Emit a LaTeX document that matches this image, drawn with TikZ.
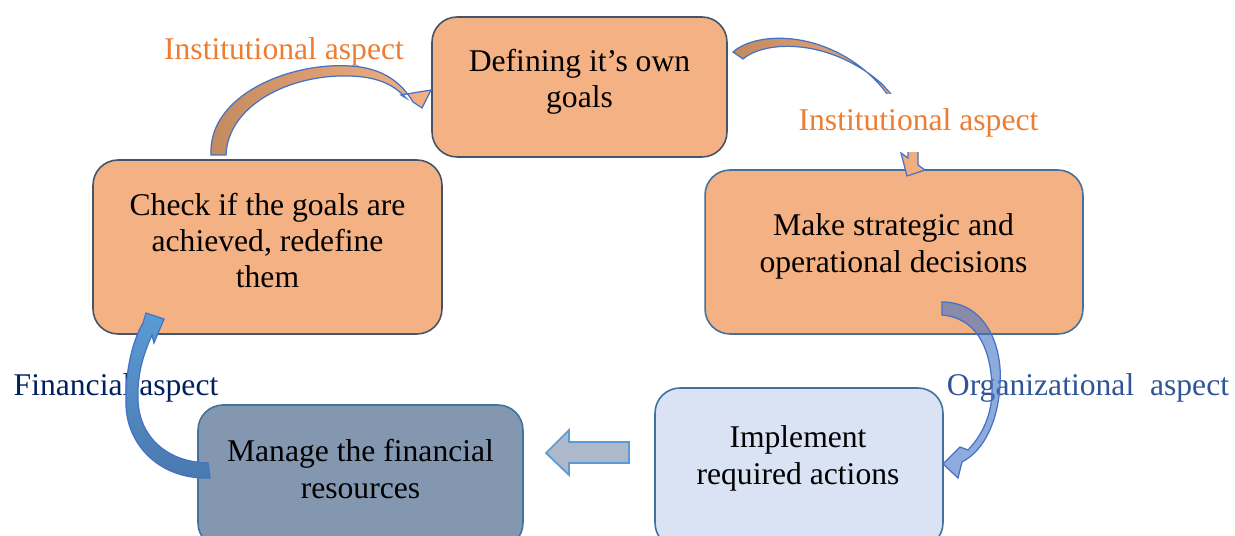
\documentclass[tikz,border=0pt]{standalone}
\usepackage{fontspec}
\setmainfont{Liberation Serif}
\definecolor{CycleOrange}{HTML}{F4B183}
\definecolor{CycleBrown}{HTML}{C38A5F}
\definecolor{SlateEdge}{HTML}{44546A}
\definecolor{BlueEdge}{HTML}{41719C}
\definecolor{PaleBlue}{HTML}{DAE3F3}
\definecolor{GreyBlue}{HTML}{8497B0}
\definecolor{ArrowBlue}{HTML}{4472C4}
\definecolor{SkyBlue}{HTML}{5B9BD5}
\definecolor{DeepBlue}{HTML}{4A78B0}
\definecolor{MistBlue}{HTML}{ADB9CA}
\definecolor{LabelOrange}{HTML}{ED7D31}
\definecolor{LabelBlue}{HTML}{2F5597}
\definecolor{LabelNavy}{HTML}{002060}

\tikzset{
  stage/.style={draw=SlateEdge,line width=0.9pt,rounded corners=0.5cm,fill=CycleOrange},
  stagetext/.style={align=center,font=\fontsize{18}{20.7}\selectfont},
  aspect/.style={font=\fontsize{18}{21}\selectfont},
  twist/.style={draw=ArrowBlue,line width=0.7pt,left color=CycleBrown,right color=CycleOrange},
}

\begin{document}
\begin{tikzpicture}[x=0.02cm,y=-0.02cm]
  \useasboundingbox (0,0) rectangle (1235,536);
  \clip (0,0) rectangle (1235,536);

  % stages of the cycle
  \node[stage,minimum width=5.9cm,minimum height=2.8cm] (goals) at (579.5,87) {};
  \node[stage,draw=BlueEdge,minimum width=7.56cm,minimum height=3.28cm] (decide) at (894,252) {};
  \node[stage,draw=BlueEdge,fill=PaleBlue,minimum width=5.76cm,minimum height=3.2cm] (act) at (799,468) {};
  \node[stage,draw=BlueEdge,fill=GreyBlue,minimum width=6.5cm,minimum height=2.86cm] (money) at (360.5,476.5) {};
  \node[stage,minimum width=6.98cm,minimum height=3.48cm] (check) at (267.5,247) {};

  \node[stagetext] (goals-t) at (579.5,82) {Defining it’s own\\goals};
  \node[stagetext] (decide-t) at (893.5,246.5) {Make strategic and\\operational decisions};
  \node[stagetext] (act-t) at (798,458.5) {Implement\\required actions};
  \node[stagetext] (money-t) at (360.5,469) {Manage the financial\\resources};
  \node[stagetext] (check-t) at (267.5,240.5) {Check if the goals are\\achieved, redefine\\them};

  \node[aspect,text=LabelOrange] (inst-l) at (284,52) {Institutional aspect};
  \node[aspect,text=LabelBlue] (org) at (1088,388) {Organizational\ \ aspect};
  \node[aspect,text=LabelNavy] (fin) at (116,388) {Financial aspect};

  % curved arrows
  \draw[twist] (211,155) .. controls (208,95) and (290,62) .. (350,66)
    .. controls (385,68) and (402,84) .. (413,102) -- (422,108) -- (431,90)
    -- (401,95) -- (406,98) .. controls (395,86) and (380,77) .. (350,76)
    .. controls (290,74) and (228,105) .. (226,155) -- cycle;
  \draw[twist] (733,52) .. controls (758,30) and (830,30) .. (880,85)
    .. controls (895,102) and (905,125) .. (908,147) -- (908,158) -- (901,153)
    -- (907,176) -- (925,170) -- (918,165) -- (918,147)
    .. controls (912,120) and (897,100) .. (882,84)
    .. controls (830,38) and (765,40) .. (743,59) -- cycle;
  \draw[draw=ArrowBlue,line width=0.7pt,fill=ArrowBlue,fill opacity=0.6]
    (942,302) .. controls (985,302) and (1003,345) .. (1000,385)
    .. controls (998,420) and (985,450) .. (962,462) -- (958,478) -- (943,464)
    -- (960,447) -- (968,450) .. controls (985,432) and (993,410) .. (992,385)
    .. controls (990,345) and (975,318) .. (942,315) -- cycle;
  \draw[draw=ArrowBlue,line width=0.7pt,top color=SkyBlue,bottom color=DeepBlue]
    (210,478) .. controls (160,480) and (127,445) .. (126,405)
    .. controls (125,370) and (133,340) .. (143,323) -- (146,313) -- (164,319)
    -- (154,343) -- (152,335) .. controls (143,355) and (137,375) .. (138,400)
    .. controls (139,435) and (165,462) .. (208,463) -- cycle;

  % block arrow between the lower stages
  \draw[draw=SkyBlue,line width=1pt,fill=MistBlue]
    (629,442) -- (569,442) -- (569,430) -- (546,453) -- (569,475) -- (569,463) -- (629,463) -- cycle;

  \node[aspect,text=LabelOrange,fill=white,inner ysep=0.3cm] (inst-r) at (918.5,123) {Institutional aspect};
\end{tikzpicture}
\end{document}
